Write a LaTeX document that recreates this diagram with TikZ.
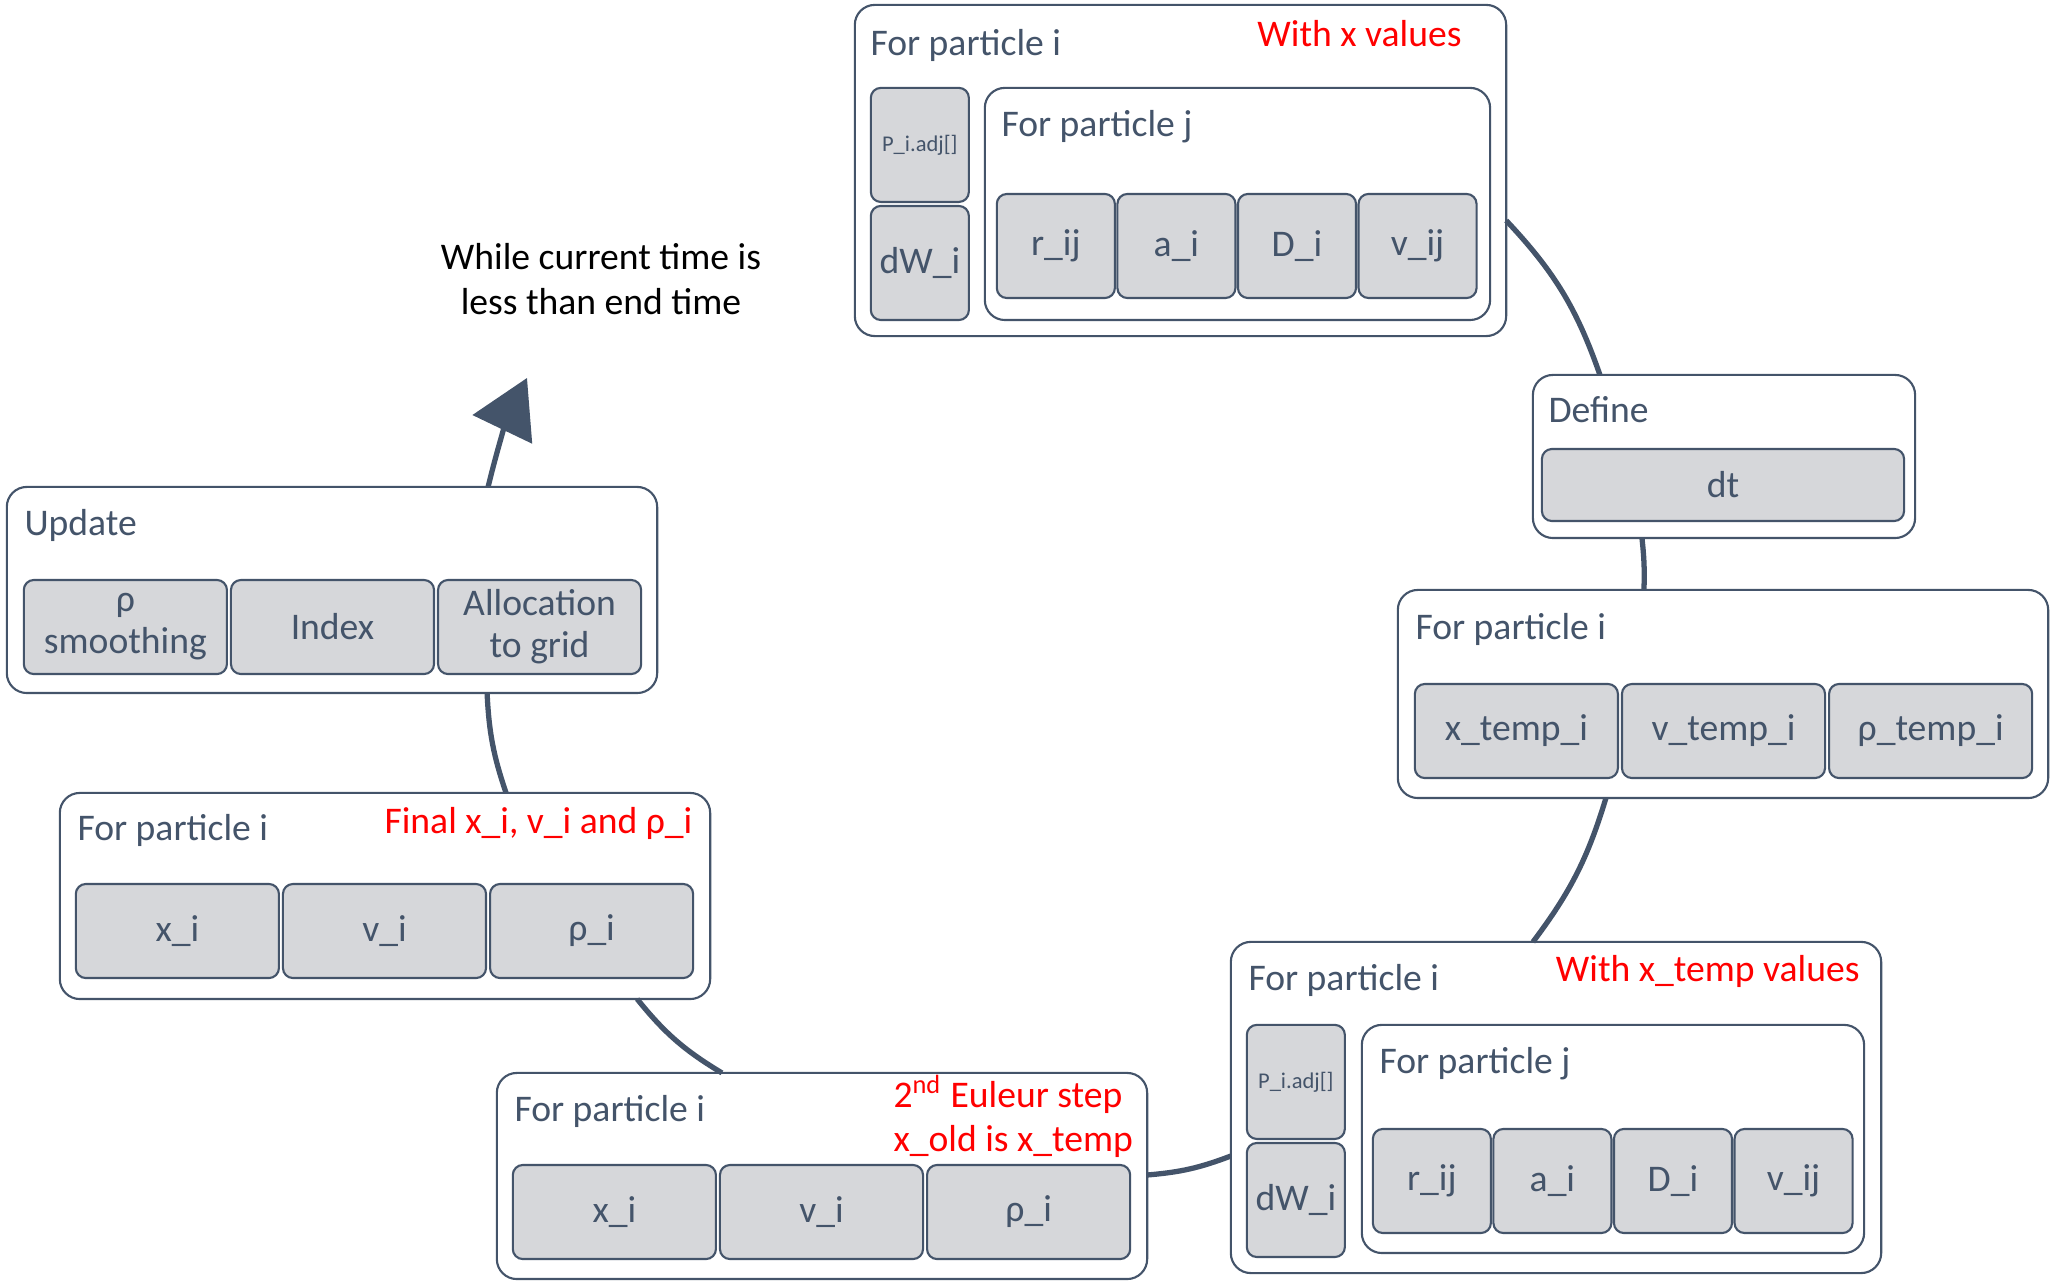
\documentclass[tikz,border=0pt]{standalone}
\usepackage{fontspec}
\setmainfont{Carlito}
\usetikzlibrary{arrows.meta,positioning}
\definecolor{slate}{HTML}{44546A}
\definecolor{cellgray}{HTML}{D6D7DA}
\definecolor{notered}{HTML}{FF0000}

\begin{document}
\begin{tikzpicture}[x=0.01cm,y=0.01cm]
\tikzstyle{loopbox} = [draw=slate, line width=0.6pt, rounded corners=0.2cm, fill=white, inner sep=0pt, outer sep=0pt]
\tikzstyle{cell} = [draw=slate, line width=0.6pt, rounded corners=0.1cm, fill=cellgray, text=slate, inner sep=0pt, outer sep=0pt, align=center, font=\fontsize{10.7}{11.9}\selectfont]
\tikzstyle{widecell} = [cell, minimum width=2.03cm, minimum height=0.94cm]
\tikzstyle{jcell} = [cell, minimum width=1.18cm, minimum height=1.04cm]
\tikzstyle{sidecell} = [cell, minimum width=0.98cm, minimum height=1.14cm, anchor=north west]
\tikzstyle{title} = [text=slate, anchor=base west, inner sep=0pt, font=\fontsize{10.7}{12.5}\selectfont]
\tikzstyle{note} = [text=notered, anchor=base east, inner sep=0pt, font=\fontsize{10.7}{12.5}\selectfont]
\tikzstyle{link} = [draw=slate, line width=1.5pt]

\useasboundingbox (0,0) rectangle (2051,1282);

% first pass over particles
\node[loopbox, minimum width=6.51cm, minimum height=3.31cm] (A) at (1180.5,1111.5) {};
\node[title] (Atitle) at ([shift={(15,-51)}]A.north west) {For particle i};
\node[note] (Anote) at ([shift={(-44,-42)}]A.north east) {With x values};
\node[sidecell, font=\fontsize{6.4}{7}\selectfont] (Aadj) at ([shift={(16,-83)}]A.north west) {P\_i.adj[]};
\node[sidecell] (AdW) at ([shift={(0,-4)}]Aadj.south west) {dW\_i};
\node[loopbox, minimum width=5.05cm, minimum height=2.32cm, anchor=north west] (Aj) at ([shift={(130,-83)}]A.north west) {};
\node[title] (Ajtitle) at ([shift={(16,-49)}]Aj.north west) {For particle j};
\node[jcell, anchor=south west] (Ar) at ([shift={(12,22)}]Aj.south west) {r\_ij};
\node[jcell, right=0.025cm of Ar] (Aa) {a\_i};
\node[jcell, right=0.025cm of Aa] (AD) {D\_i};
\node[jcell, right=0.025cm of AD] (Av) {v\_ij};

% time step
\node[loopbox, minimum width=3.82cm, minimum height=1.63cm] (B) at (1724,825.5) {};
\node[title] (Btitle) at ([shift={(15,-48)}]B.north west) {Define};
\node[cell, minimum width=3.62cm, minimum height=0.72cm, anchor=south west] (Bdt) at ([shift={(9,17)}]B.south west) {dt};

% first Euler step
\node[loopbox, minimum width=6.5cm, minimum height=2.08cm] (C) at (1723,588) {};
\node[title] (Ctitle) at ([shift={(17,-50)}]C.north west) {For particle i};
\node[widecell, anchor=south west] (Cx) at ([shift={(17,20)}]C.south west) {x\_temp\_i};
\node[widecell, right=0.04cm of Cx] (Cv) {v\_temp\_i};
\node[widecell, right=0.04cm of Cv] (Crho) {ρ\_temp\_i};

% second pass over particles
\node[loopbox, minimum width=6.5cm, minimum height=3.31cm] (D) at (1556,174.5) {};
\node[title] (Dtitle) at ([shift={(17,-49)}]D.north west) {For particle i};
\node[note] (Dnote) at ([shift={(-21,-40)}]D.north east) {With x\_temp values};
\node[sidecell, font=\fontsize{6.4}{7}\selectfont] (Dadj) at ([shift={(16,-83)}]D.north west) {P\_i.adj[]};
\node[sidecell] (DdW) at ([shift={(0,-4)}]Dadj.south west) {dW\_i};
\node[loopbox, minimum width=5.02cm, minimum height=2.28cm, anchor=north west] (Dj) at ([shift={(131,-83)}]D.north west) {};
\node[title] (Djtitle) at ([shift={(17,-49)}]Dj.north west) {For particle j};
\node[jcell, anchor=south west] (Dr) at ([shift={(11,20)}]Dj.south west) {r\_ij};
\node[jcell, right=0.025cm of Dr] (Da) {a\_i};
\node[jcell, right=0.025cm of Da] (DD) {D\_i};
\node[jcell, right=0.025cm of DD] (Dv) {v\_ij};

% second Euler step
\node[loopbox, minimum width=6.5cm, minimum height=2.06cm] (E) at (822,106) {};
\node[title] (Etitle) at ([shift={(17,-49)}]E.north west) {For particle i};
\node[note, anchor=base west] (Enote) at ([shift={(396,-35)}]E.north west) {2\textsuperscript{nd} Euleur step};
\node[note, anchor=base west] (Enote2) at ([shift={(396,-79)}]E.north west) {x\_old is x\_temp};
\node[widecell, anchor=south west] (Ex) at ([shift={(16,20)}]E.south west) {x\_i};
\node[widecell, right=0.04cm of Ex] (Ev) {v\_i};
\node[widecell, right=0.04cm of Ev] (Erho) {ρ\_i};

% final values
\node[loopbox, minimum width=6.5cm, minimum height=2.06cm] (F) at (385,386) {};
\node[title] (Ftitle) at ([shift={(17,-48)}]F.north west) {For particle i};
\node[note] (Fnote) at ([shift={(-17,-41)}]F.north east) {Final x\_i, v\_i and ρ\_i};
\node[widecell, anchor=south west] (Fx) at ([shift={(16,21)}]F.south west) {x\_i};
\node[widecell, right=0.04cm of Fx] (Fv) {v\_i};
\node[widecell, right=0.04cm of Fv] (Frho) {ρ\_i};

% update
\node[loopbox, minimum width=6.5cm, minimum height=2.06cm] (G) at (332,692) {};
\node[title] (Gtitle) at ([shift={(17,-49)}]G.north west) {Update};
\node[widecell, anchor=south west] (Grho) at ([shift={(17,19)}]G.south west) {ρ\\smoothing};
\node[widecell, right=0.04cm of Grho] (Gidx) {Index};
\node[widecell, right=0.04cm of Gidx] (Ggrid) {Allocation\\to grid};

\node[align=center, inner sep=0pt, font=\fontsize{10.7}{13}\selectfont] (cond) at (601,1003) {While current time is\\less than end time};
\coordinate (goal) at (527,904);

\draw[link] ([yshift=-0.5cm]A.east) to[bend left=12] ([xshift=-1.24cm]B.north);
\draw[link] ([xshift=-0.82cm]B.south) to[bend left=4] ([xshift=-0.79cm]C.north);
\draw[link] ([xshift=-1.17cm]C.south) to[bend left=10] ([xshift=-0.23cm]D.north);
\draw[link] ([yshift=-0.485cm]D.west) to[bend left=8] ([yshift=0.01cm]E.east);
\draw[link] ([xshift=-1cm]E.north) to[bend left=10] ([xshift=2.52cm]F.south);
\draw[link] ([xshift=1.21cm]F.north) to[bend left=8] ([xshift=1.55cm]G.south);
\draw[link, -{Triangle[length=0.57cm,width=0.65cm]}] ([xshift=1.56cm]G.north) to[bend left=6] (goal);
\end{tikzpicture}
\end{document}
